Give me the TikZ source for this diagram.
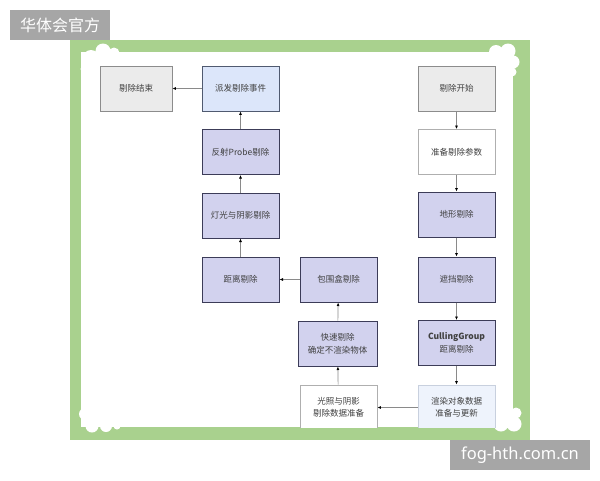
\documentclass[tikz,border=0pt]{standalone}
\usepackage{fontspec}
\setmainfont{Noto Sans CJK SC}
\newfontfamily\wmfont{Noto Sans}
\usetikzlibrary{arrows.meta}
\definecolor{frameg}{HTML}{A9D18E}
\definecolor{wmgray}{HTML}{A6A6A6}
\definecolor{grayfill}{HTML}{EBEBEB}
\definecolor{grayline}{HTML}{8C8C8C}
\definecolor{bluefill}{HTML}{DCE6FA}
\definecolor{blueline}{HTML}{505A70}
\definecolor{purfill}{HTML}{D2D2EE}
\definecolor{purline}{HTML}{3C3C58}
\definecolor{ltblue}{HTML}{EEF3FC}
\definecolor{ltline}{HTML}{C8D0DE}
\definecolor{txt}{HTML}{404040}
\definecolor{conn}{HTML}{8A8A8A}
\begin{document}
\begin{tikzpicture}[x=1pt,y=-1pt,
  box/.style={rectangle,minimum width=77pt,minimum height=45pt,inner sep=1pt,
    font=\fontsize{8.5}{12.5}\selectfont,text=txt,align=center,line width=0.8pt},
  graybox/.style={box,fill=grayfill,draw=grayline},
  bluebox/.style={box,fill=bluefill,draw=blueline},
  purbox/.style={box,fill=purfill,draw=purline,line width=1pt},
  whitebox/.style={box,fill=white,draw=grayline!70},
  ltbox/.style={box,fill=ltblue,draw=ltline},
  conn/.style={draw=conn,line width=0.7pt,-{Latex[color=black,length=3.5pt,width=3pt]}}]
\useasboundingbox (0,0) rectangle (600,480);
\fill[white] (0,0) rectangle (600,480);
% frame
\fill[frameg] (70,40) rectangle (530,440);
\fill[white] (81,52) rectangle (513,427);
% clouds
\fill[white] (91,58) circle (8) (103,51) circle (7.5) (114,53) circle (5.5) (86,69) circle (5.5);
\fill[white] (496,52) circle (7) (508,51) circle (7.5) (513,62) circle (6.5) (512,72) circle (4.5);
\fill[white] (501,424) circle (7.5) (514,424) circle (7.5) (516,413) circle (5.5);
\fill[white] (85,414) circle (6) (92,426) circle (6.5) (106,426) circle (6) (117,426) circle (3.5);
\begin{scope}
\clip (81,52) rectangle (513,427);
\node[graybox,minimum width=72pt] (end) at (136,88.5) {剔除结束};
\node[bluebox] (disp) at (240.5,88.5) {派发剔除事件};
\node[graybox] (start) at (456.5,88.5) {剔除开始};
\node[purbox] (refl) at (240.5,152) {反射Probe剔除};
\node[purbox] (light) at (240.5,215.5) {灯光与阴影剔除};
\node[purbox] (dist) at (240.5,279.5) {距离剔除};
\node[purbox] (bbox) at (338.5,279.5) {包围盒剔除};
\node[purbox,minimum width=79pt] (quick) at (337.5,343.5) {快速剔除\\确定不渲染物体};
\node[whitebox] (prep) at (338.5,407.5) {光照与阴影\\剔除数据准备};
\node[whitebox] (param) at (456.5,152) {准备剔除参数};
\node[purbox] (terr) at (456.5,214.5) {地形剔除};
\node[purbox] (occ) at (456.5,279.5) {遮挡剔除};
\node[purbox] (cg) at (456.5,343) {\textbf{CullingGroup}\\距离剔除};
\node[ltbox] (rend) at (456.5,407.5) {渲染对象数据\\准备与更新};
\path[conn] (start) -- (param);
\path[conn] (param) -- (terr);
\path[conn] (terr) -- (occ);
\path[conn] (occ) -- (cg);
\path[conn] (cg) -- (rend);
\path[conn] (rend) -- (prep);
\path[conn] (prep) -- (quick);
\path[conn] (quick) -- (bbox);
\path[conn] (bbox) -- (dist);
\path[conn] (dist) -- (light);
\path[conn] (light) -- (refl);
\path[conn] (refl) -- (disp);
\path[conn] (disp) -- (end);
\end{scope}
% watermarks
\fill[wmgray] (10,10) rectangle (110,40);
\node[text=white,font=\fontsize{16}{18}\selectfont] (wm1) at (60,25) {华体会官方};
\fill[wmgray] (450,440) rectangle (590,470);
\node[text=white,font=\wmfont\fontsize{16.5}{18}\selectfont] (wm2) at (520,455) {fog-hth.com.cn};
\end{tikzpicture}
\end{document}
